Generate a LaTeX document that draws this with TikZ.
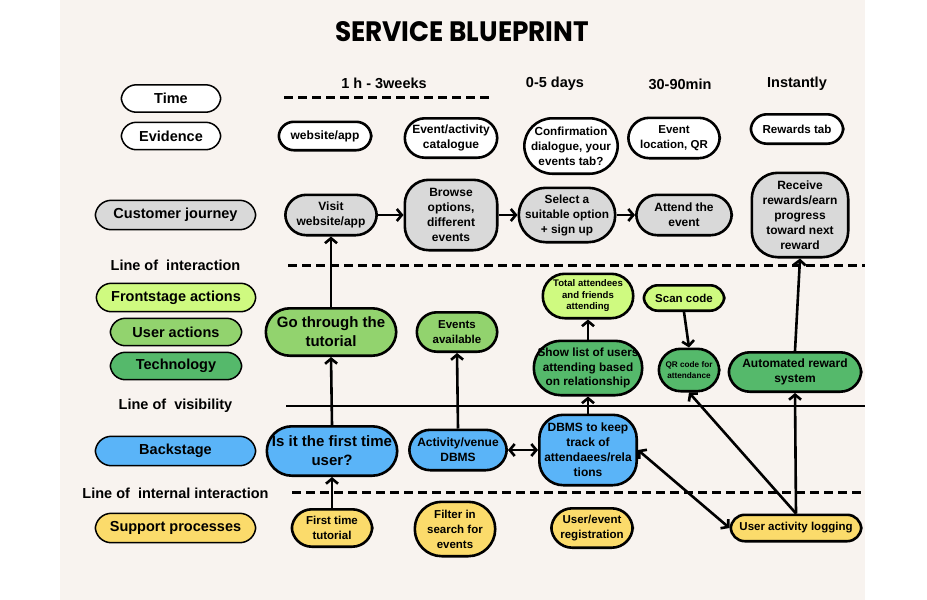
\documentclass[tikz,border=0pt]{standalone}
\usepackage{fontspec}
\setmainfont{Liberation Sans}
\newfontfamily\titlefont{Poppins}
\usetikzlibrary{arrows.meta}
\definecolor{bgc}{HTML}{F8F3EF}
\definecolor{gry}{HTML}{D9D9D9}
\definecolor{fgreen}{HTML}{CFFA80}
\definecolor{ugreen}{HTML}{92D36E}
\definecolor{tgreen}{HTML}{55B96B}
\definecolor{bblue}{HTML}{5AB4F8}
\definecolor{yel}{HTML}{FBDB6B}
\newcommand\fsz[2]{\fontsize{#1}{#2}\selectfont\bfseries}
\tikzset{
  box/.style={draw=black, line width=2.6pt, align=center, inner sep=0pt},
  sz/.style n args={3}{minimum width={#1pt-2.6pt}, minimum height={#2pt-2.6pt}, rounded corners=#3pt},
  lbl/.style={draw=black, line width=1.5pt, align=center, inner sep=0pt, font=\fsz{14.5}{17}},
  plain/.style={align=center, inner sep=0pt, font=\fsz{14.5}{17}},
  tip/.tip={Straight Barb[length=5pt,width=12pt]},
  arr/.style={-tip, line width=2.6pt},
  darr/.style={tip-tip, line width=2.6pt},
  dline/.style={line width=3pt, dash pattern=on 9pt off 5pt},
  sline/.style={line width=2pt}
}
\begin{document}
\begin{tikzpicture}[x=1pt,y=-1pt]
\useasboundingbox (0,0) rectangle (927,600);
\fill[white] (0,0) rectangle (927,600);
\fill[bgc] (60,0) rectangle (865,600);

% title
\node[inner sep=0pt] (title) at (462,32) {\resizebox{254pt}{20pt}{\titlefont\bfseries SERVICE BLUEPRINT}};

% left labels
\node[lbl, sz={102}{30}{15}, fill=white] (ltime) at (171,98.5) {Time};
\node[lbl, sz={102}{30}{15}, fill=white] (levid) at (171,136) {Evidence};
\node[lbl, sz={163}{32}{16}, fill=gry] (lcj) at (175.5,215) {Customer journey};
\node[plain] (loi) at (175.5,265) {Line of\ \ interaction};
\node[lbl, sz={162}{31}{15}, fill=fgreen] (lfront) at (176,297.5) {Frontstage actions};
\node[lbl, sz={134}{30}{15}, fill=ugreen] (luser) at (176,332) {User actions};
\node[lbl, sz={134}{30}{15}, fill=tgreen] (ltech) at (176,366) {Technology};
\node[plain] (lov) at (175.5,406) {Line of\ \ visibility};
\node[lbl, sz={163}{32}{16}, fill=bblue] (lback) at (175.5,451) {Backstage};
\node[plain] (loii) at (175.5,493) {Line of\ \ internal interaction};
\node[lbl, sz={163}{32}{16}, fill=yel] (lsup) at (175.5,528) {Support processes};

% time labels
\node[plain] (t1) at (384,83) {1 h - 3weeks};
\node[plain] (t2) at (555,84) {0-5 days};
\node[plain] (t3) at (680,84) {30-90min};
\node[plain] (t4) at (797,84) {Instantly};

% lines
\coordinate (ta) at (284,97); \coordinate (tb) at (490,97);
\coordinate (ia) at (288,265); \coordinate (ib) at (865,265);
\coordinate (va) at (286,406); \coordinate (vb) at (865,406);
\coordinate (na) at (292,492); \coordinate (nb) at (865,492);
\draw[dline] (ta) -- (tb);
\draw[dline] (ia) -- (ib);
\draw[sline] (va) -- (vb);
\draw[dline] (na) -- (nb);

% evidence
\node[box, sz={95}{31}{15}, fill=white, font=\fsz{12}{15}] (ev1) at (325,136) {website/app};
\node[box, sz={95}{42}{20}, fill=white, font=\fsz{12}{15}] (ev2) at (451,138) {Event/activity\\catalogue};
\node[box, sz={96}{58}{28}, fill=white, font=\fsz{11.7}{15}] (ev3) at (571,146) {Confirmation\\dialogue, your\\events tab?};
\node[box, sz={94}{43}{21}, fill=white, font=\fsz{11.5}{15}] (ev4) at (674,138) {Event\\location, QR};
\node[box, sz={95}{32}{16}, fill=white, font=\fsz{11.6}{15}] (ev5) at (797,129) {Rewards tab};

% customer journey
\node[box, sz={94}{43}{21}, fill=gry, font=\fsz{12}{15}] (visit) at (331,215) {Visit\\website/app};
\node[box, sz={95}{73}{24}, fill=gry, font=\fsz{12}{15}] (browse) at (451,215) {Browse\\options,\\different\\events};
\node[box, sz={99}{57}{27}, fill=gry, font=\fsz{11.8}{15}] (select) at (567,215) {Select a\\suitable option\\+ sign up};
\node[box, sz={98}{43}{21}, fill=gry, font=\fsz{12}{15}] (attend) at (684,215) {Attend the\\event};
\node[box, sz={99}{87}{26}, fill=gry, font=\fsz{12}{15}] (receive) at (800,215) {Receive\\rewards/earn\\progress\\toward next\\reward};

% frontstage / technology
\node[box, sz={133}{50}{24}, fill=ugreen, font=\fsz{15}{19}] (gothru) at (331,332) {Go through the\\tutorial};
\node[box, sz={83}{42}{20}, fill=ugreen, font=\fsz{11.5}{14.5}] (evav) at (457,332) {Events\\available};
\node[box, sz={93}{47}{22}, fill=fgreen, font=\fsz{9.6}{11.5}] (total) at (588,296) {Total attendees\\and friends\\attending};
\node[box, sz={83}{28}{14}, fill=fgreen, font=\fsz{11.5}{14}] (scan) at (684,298) {Scan code};
\node[box, sz={111}{57}{27}, fill=tgreen, font=\fsz{11.8}{14.5}] (show) at (588,368) {Show list of users\\attending based\\on relationship};
\node[box, sz={63}{45}{22}, fill=tgreen, font=\fsz{8.2}{11}] (qr) at (689,370) {QR code for\\attendance};
\node[box, sz={135}{42}{21}, fill=tgreen, font=\fsz{12}{14.5}] (auto) at (795,372) {Automated reward\\system};

% backstage
\node[box, sz={133}{52}{25}, fill=bblue, font=\fsz{15}{19}] (isit) at (332,451) {Is it the first time\\user?};
\node[box, sz={100}{43}{21}, fill=bblue, font=\fsz{12}{15}] (actdb) at (458,450) {Activity/venue\\DBMS};
\node[box, sz={100}{73}{24}, fill=bblue, font=\fsz{12}{15}] (dbms) at (588,450) {DBMS to keep\\track of\\attendaees/rela\\tions};

% support
\node[box, sz={83}{40}{20}, fill=yel, font=\fsz{11.5}{15}] (ftt) at (332,528) {First time\\tutorial};
\node[box, sz={83}{57}{27}, fill=yel, font=\fsz{11.5}{15}] (filter) at (455,529) {Filter in\\search for\\events};
\node[box, sz={84}{42}{21}, fill=yel, font=\fsz{11.5}{15}] (reg) at (592,528) {User/event\\registration};
\node[box, sz={133}{29}{14}, fill=yel, font=\fsz{11.5}{14}] (ual) at (796,528) {User activity logging};

% connectors
\draw[arr] (ftt.north) -- (isit.south);
\draw[arr] (isit.north) -- (gothru.south);
\draw[arr] (gothru.north) -- (visit.south);
\draw[arr] (visit.east) -- (browse.west);
\draw[arr] (browse.east) -- (select.west);
\draw[arr] (select.east) -- (attend.west);
\draw[arr] (actdb.north) -- (evav.south);
\draw[darr] (actdb.east) -- (dbms.west);
\draw[arr] (dbms.north) -- (show.south);
\draw[arr] (show.north) -- (total.south);
\draw[arr] (scan.south) -- (qr.north);
\draw[arr] (ual.north) -- (qr.south);
\draw[darr] (dbms.east) -- (ual.west);
\draw[arr] (ual.north) -- (auto.south);
\draw[arr] (auto.north) -- (receive.south);
\end{tikzpicture}
\end{document}
